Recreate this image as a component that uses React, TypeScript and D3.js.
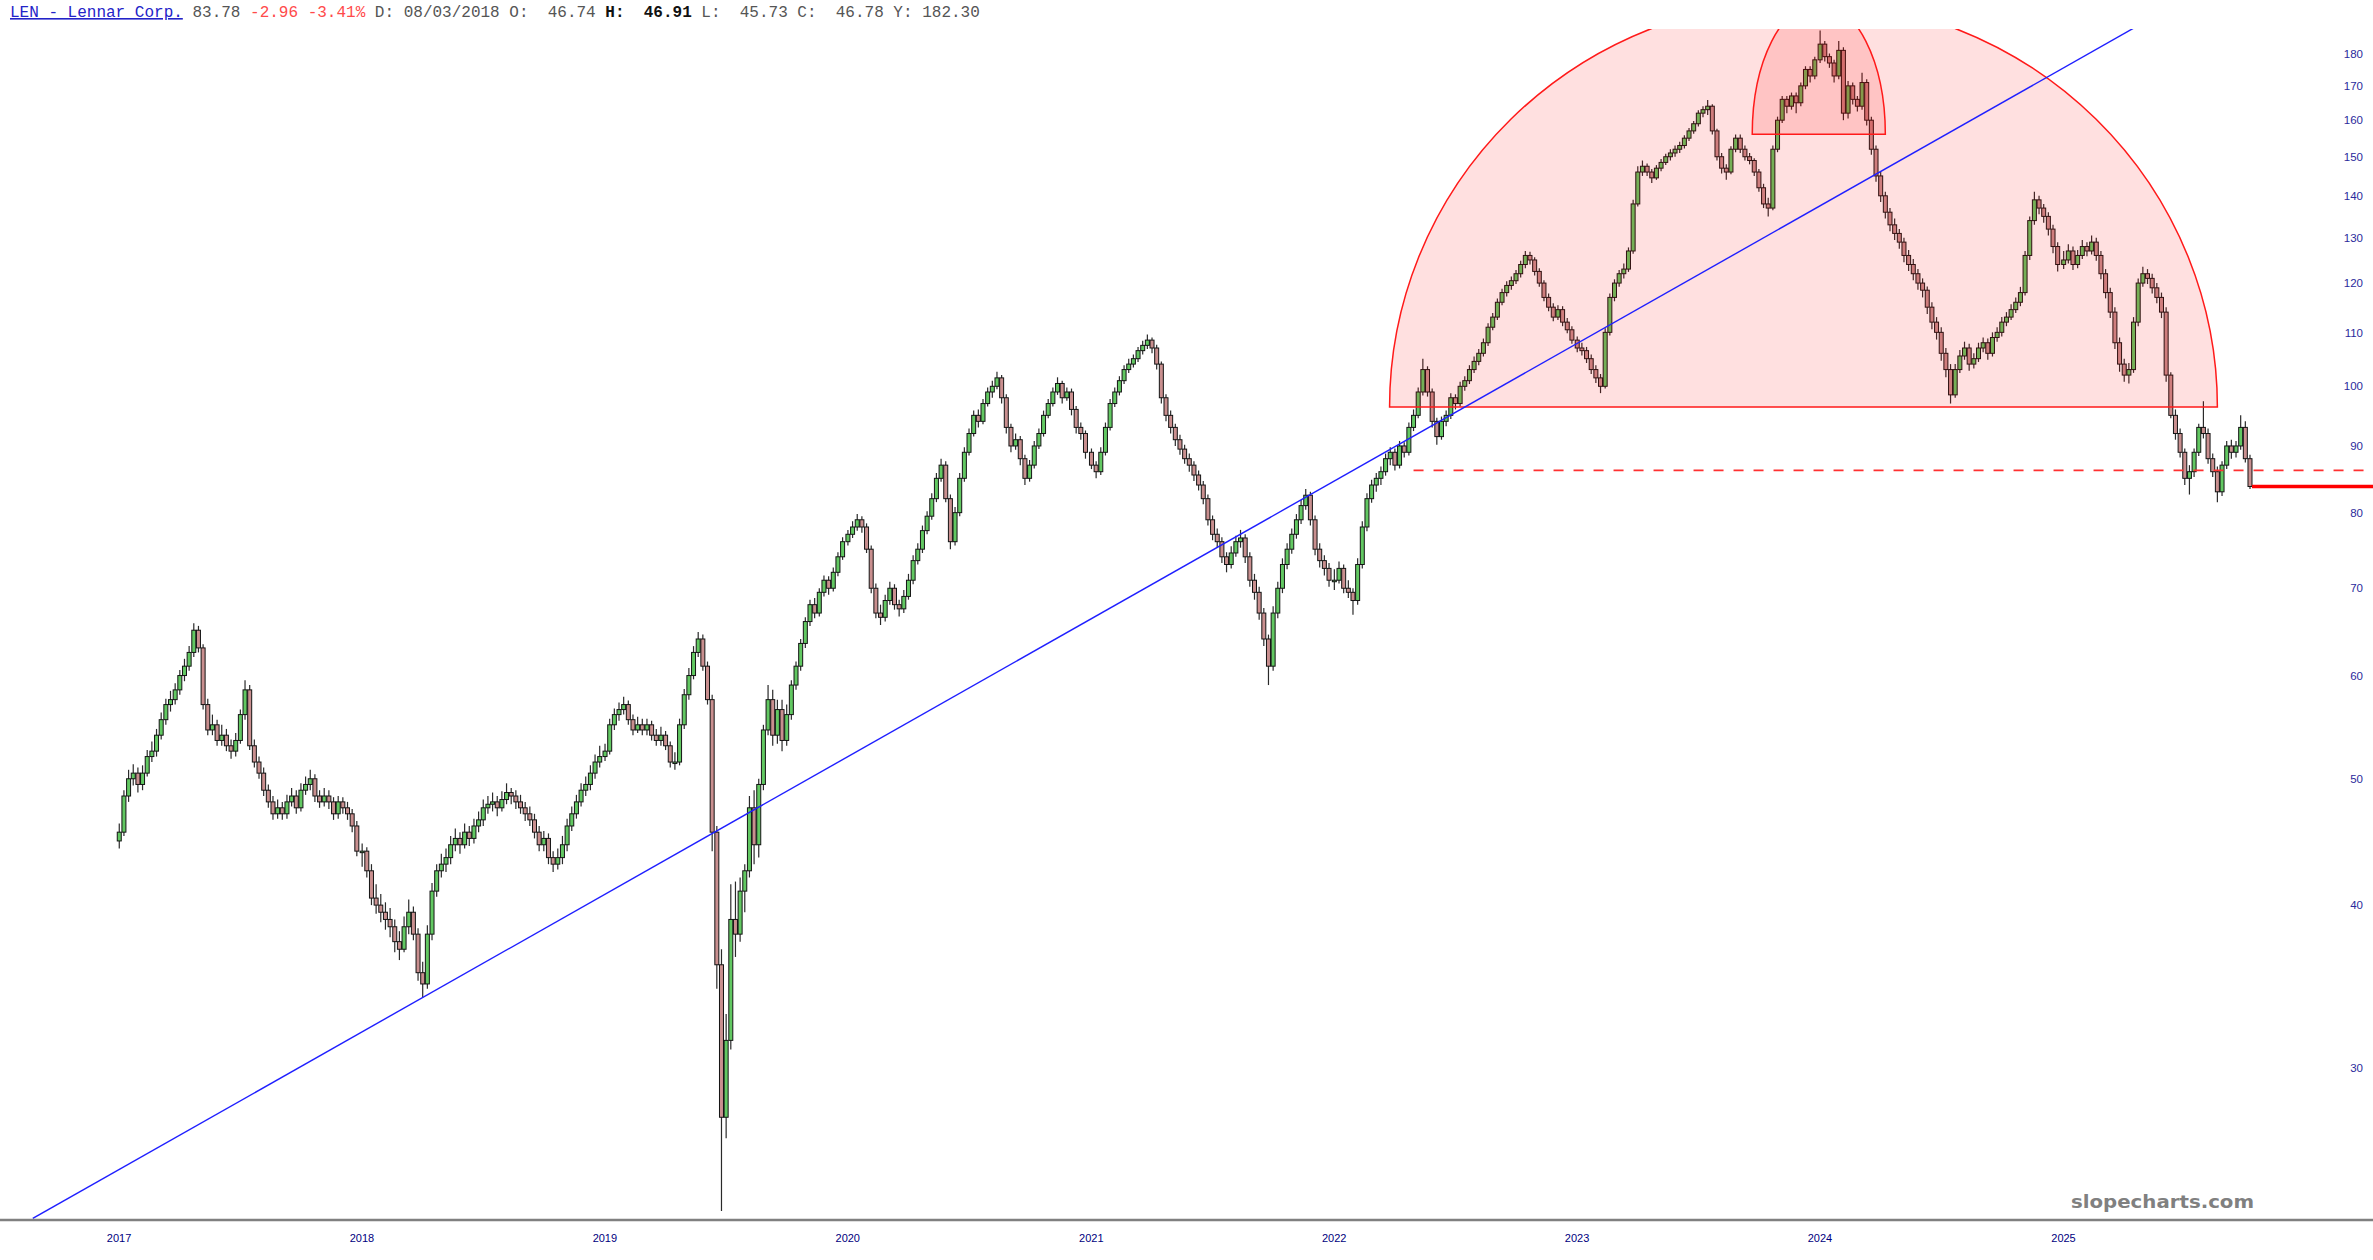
import { useEffect, useRef } from 'react';
import * as d3 from 'd3';

const WIDTH = 2373;
const HEIGHT = 1260;

// Weekly candles [open, high, low, close], one array per year
const ohlc2017 = [
  [44.8,46.2,44.2,45.5],[45.5,49,45.2,48.5],[48.5,50.8,48,50],[50,51.3,49.4,50.5],[50.5,51,48.8,49.5],
  [49.5,51.2,49,50.5],[50.5,52.6,50.2,52],[52,53.4,51.5,52.5],[52.5,54.6,52,54],[54,56.2,53.6,55.5],
  [55.5,57.6,55,57],[57,58.4,56.3,57.5],[57.5,59.2,57,58.5],[58.5,60.6,58,60],[60,61.8,59.4,61],
  [61,63.2,60.5,62.5],[62.5,65.8,62,65],[65,65.5,62.5,63],[63,63.4,56.5,57],[57,57.6,54,54.5],
  [54.5,56,54,55],[55,55.5,53,53.5],[53.5,55,53,54],[54,54.6,52.5,53],[53,53.6,51.8,52.5],
  [52.5,54.2,52,53.5],[53.5,56.5,53.2,56],[56,59.5,55.5,58.5],[58.5,59,52.6,53],[53,53.6,51,51.5],
  [51.5,52,50,50.5],[50.5,51,48.5,49],[49,49.5,47.5,48],[48,48.5,46.5,47],[47,48.2,46.6,47.5],
  [47.5,48,46.5,47],[47,48.6,46.6,48],[48,49.2,47.6,48.5],[48.5,49,47,47.5],[47.5,49.6,47.2,49],
  [49,50.2,48.6,49.5],[49.5,50.8,49,50],[50,50.4,48,48.5],[48.5,49,47.5,48],[48,49.2,47.6,48.5],
  [48.5,49,47.4,48],[48,48.4,46.5,47],[47,48.5,46.6,48],[48,48.4,47,47.5],[47.5,48,46.5,47],
  [47,47.4,45.5,46],[46,46.4,43.6,44],
];
const ohlc2018 = [
  [44,44.6,42.8,44],[44,44.3,42,42.5],[42.5,43,40,40.5],[40.5,41.5,39.4,40],[40,40.8,38.8,39.5],
  [39.5,40.2,38.3,39],[39,39.8,37.8,38.5],[38.5,39,36.8,37.5],[37.5,38.2,36.3,37],[37,39.2,36.8,38.5],
  [38.5,40.4,38,39.5],[39.5,39.9,37.6,38],[38,38.4,35,35.5],[35.5,36.2,34,34.8],[34.8,38.6,34.5,38],
  [38,41.6,37.6,41],[41,43,40.6,42.5],[42.5,43.8,42,43],[43,44.2,42.4,43.5],[43.5,45.2,43,44.5],
  [44.5,45.8,44,45],[45,45.5,43.8,44.5],[44.5,46.2,44.2,45.5],[45.5,46,44.4,45],[45,46.6,44.6,46],
  [46,47.2,45.5,46.5],[46.5,48.2,46,47.5],[47.5,48.5,47,47.8],[47.8,48.8,47.2,48],[48,48.5,46.8,47.5],
  [47.5,48.9,47.2,48.2],[48.2,49.6,47.8,48.8],[48.8,49.2,47.8,48.5],[48.5,49,47.4,48],[48,48.6,47,47.5],
  [47.5,48,46.4,47],[47,47.6,46,46.5],[46.5,47,45,45.5],[45.5,46,44,44.5],[44.5,45.6,44,45],
  [45,45.4,43,43.5],[43.5,44,42.4,43],[43,44.2,42.6,43.5],[43.5,45.2,43,44.5],[44.5,46.6,44,46],
  [46,47.6,45.6,47],[47,48.6,46.6,48],[48,49.6,47.6,49],[49,50.2,48.5,49.5],[49.5,51.2,49,50.5],
  [50.5,52.2,50,51.5],[51.5,53,51,52],
];
const ohlc2019 = [
  [52,53.2,51.6,52.5],[52.5,55.6,52.2,55],[55,56.6,54.5,56],[56,57.2,55.4,56.5],[56.5,57.8,56,57],
  [57,57.4,55,55.5],[55.5,56,54,54.5],[54.5,55.8,54.2,55],[55,55.6,54,54.5],[54.5,55.6,54,55],
  [55,55.4,53.5,54],[54,54.6,53,53.5],[53.5,54.8,53,54],[54,54.4,52.6,53],[53,53.4,51,51.5],
  [51.5,52.4,50.8,51.5],[51.5,55.6,51.2,55],[55,58.6,54.6,58],[58,60.8,57.5,60],[60,63.2,59.6,62.5],
  [62.5,64.8,62,64],[64,64.5,60.5,61],[61,61.5,57,57.5],[57.5,58,44,45.5],[45.5,46,34.5,36],
  [36,37,23.3,27.5],[27.5,33,26.5,31.5],[31.5,41.5,31,39],[39,41.7,36.5,38],[38,42,37.5,41],
  [41,43,39.5,42.5],[42.5,48.5,42,47.5],[47.5,49,43,44.5],[44.5,50,43.5,49.5],[49.5,55,49,54.5],
  [54.5,59,54,57.5],[57.5,58.5,53,54],[54,57.5,53.2,56.5],[56.5,57.5,52.5,53.5],[53.5,57,53,56],
  [56,59.5,55.5,59],[59,61.5,58.5,61],[61,64,60.5,63.5],[63.5,66.5,63,66],[66,68.6,65.5,68],
  [68,68.8,66.4,67],[67,70,66.6,69.5],[69.5,71.6,69,71],[71,71.5,69.2,70],[70,72.6,69.6,72],
  [72,74.6,71.5,74],[74,76.6,73.6,76],
];
const ohlc2020 = [
  [76,77.6,75.5,77],[77,78.8,76.5,78],[78,79.8,77.5,79],[79,79.5,77.2,78],[78,78.5,74.5,75],
  [75,75.5,69.4,70],[70,70.6,66.4,67],[67,68,65.6,66.5],[66.5,69.2,66,68.5],[68.5,70.8,68,70],
  [70,70.5,67.4,68],[68,68.6,66.6,67.5],[67.5,69.8,67,69],[69,71.8,68.6,71],[71,74.2,70.5,73.5],
  [73.5,75.8,73,75],[75,78.2,74.5,77.5],[77.5,80.2,77,79.5],[79.5,82.8,79,82],[82,85.8,81.5,85],
  [85,88,84.5,87],[87,87.6,81.5,82],[82,82.6,75,76],[76,80.8,75.5,80],[80,85.8,79.5,85],
  [85,89.8,84.5,89],[89,92.8,88.5,92],[92,95.8,91.5,95],[95,96,93,94],[94,97.8,93.5,97],
  [97,99.8,96.5,99],[99,101,98,100],[100,102.6,99.5,101.5],[101.5,102,97,98],[98,98.6,92,93],
  [93,93.6,89,90],[90,92,89.4,91],[91,91.6,87,88],[88,88.6,84,85],[85,87.8,84.5,87],
  [87,90.8,86.5,90],[90,92.8,89.5,92],[92,95.8,91.5,95],[95,97.8,94.5,97],[97,99.8,96.5,99],
  [99,101.6,98.5,100.5],[100.5,101,97,98],[98,99.8,97.5,99],[99,99.6,95,96],[96,96.6,92,93],
  [93,93.8,91,92],[92,92.5,88,89],
];
const ohlc2021 = [
  [89,89.6,86.4,87],[87,87.6,85,86],[86,89.8,85.5,89],[89,93.8,88.5,93],[93,97.8,92.5,97],
  [97,99.8,96.4,99],[99,101.8,98.4,101],[101,103.8,100.4,103],[103,105,102.4,104],[104,105.8,103.4,105],
  [105,107.2,104.4,106.5],[106.5,108.4,105.8,107.5],[107.5,109.6,106.8,108.5],[108.5,109,106,107],[107,107.6,103,104],
  [104,104.5,97,98],[98,98.6,94,95],[95,95.8,92,93],[93,93.6,90,91],[91,91.8,88.6,89.5],
  [89.5,90.2,87.2,88],[88,88.8,86,87],[87,87.6,84.6,85.5],[85.5,86.2,83.2,84],[84,84.6,81.2,82],
  [82,82.6,78.2,79],[79,79.6,76.2,77],[77,77.8,75.2,76],[76,76.6,73.2,74],[74,74.6,72,73],
  [73,75.4,72.5,74.5],[74.5,76.8,74,76],[76,77.6,75.2,76.5],[76.5,77,73.2,74],[74,74.6,70.2,71],
  [71,71.8,68.6,69.5],[69.5,70.2,66.2,67],[67,67.6,63.2,64],[64,64.5,59,61],[61,67.8,60.5,67],
  [67,70.8,66.4,70],[70,73.8,69.4,73],[73,75.8,72.4,75],[75,77.8,74.4,77],[77,79.8,76.4,79],
  [79,81.8,78.4,81],[81,83.4,80.4,82.5],[82.5,83,78.2,79],[79,79.6,74.2,75],[75,75.8,72.6,73.5],
  [73.5,74.2,71.6,72.5],[72.5,73.2,70.2,71],
];
const ohlc2022 = [
  [71,72.4,69.8,71],[71,73.4,70.6,72.5],[72.5,73,69.4,70],[70,71,68.8,69.5],[69.5,70,66.8,68.5],
  [68.5,73.8,68,73],[73,78.8,72.5,78],[78,82.8,77.4,82],[82,84.8,81.4,84],[84,85.8,83,85],
  [85,86.8,84,86],[86,88.8,85.4,88],[88,89.8,87,89],[89,89.6,86.2,87],[87,90.8,86.5,90],
  [90,90.6,88.2,89],[89,93.8,88.5,93],[93,96,92.4,95],[95,99.8,94.5,99],[99,105,98.4,103],
  [103,103.6,98.2,99],[99,99.6,93,94],[94,94.6,90.2,91.5],[91.5,94.8,91,94],[94,95.8,93.2,95],
  [95,98.8,94.4,98],[98,98.6,96,97],[97,100.8,96.5,100],[100,101.8,99.2,101],[101,103.8,100.4,103],
  [103,105.4,102.4,104.5],[104.5,106.8,103.8,106],[106,108.8,105.4,108],[108,111.8,107.4,111],[111,113.8,110.4,113],
  [113,116.8,112.4,116],[116,118.8,115.4,118],[118,120.4,117.2,119.5],[119.5,121.4,118.6,120.5],[120.5,122.8,119.8,122],
  [122,124.8,121.2,124],[124,127,123.2,126],[126,126.8,124,125],[125,125.6,121.6,122.5],[122.5,123.2,119.2,120],
  [120,120.6,116.2,117],[117,117.8,114.2,115],[115,115.8,112.2,113],[113,115.4,112.4,114.5],[114.5,115.2,111.2,112],
  [112,112.8,109.8,110.5],[110.5,111.2,107.8,108.5],
];
const ohlc2023 = [
  [108.5,109.2,106.2,107],[107,108,105.6,106.5],[106.5,107.2,104.2,105],[105,105.8,102.2,103],[103,103.8,100.6,101.5],
  [101.5,102.2,98.8,100],[100,110.8,99.6,110],[110,117.8,109.4,117],[117,120.8,116.2,120],[120,122.8,119.2,122],
  [122,124.2,121,123],[123,127.8,122.4,127],[127,139,126.4,138],[138,147.5,137.4,146],[146,149,145,147.5],
  [147.5,148.2,145,146],[146,146.8,143.2,144.5],[144.5,147.8,144,147],[147,149.4,146.2,148.5],[148.5,150.8,147.8,150],
  [150,152,149,151],[151,153,150,152],[152,154,151,153],[153,155.8,152.2,155],[155,157.8,154.2,157],
  [157,159.8,156.2,159],[159,162.8,158.2,162],[162,164,160.8,163],[163,165.8,161.5,164],[164,164.6,156,157],
  [157,157.6,149,150],[150,151,145.6,147],[147,148,144,146],[146,152.8,145.4,152],[152,156,151.2,155],
  [155,156,151,152],[152,153,149,150],[150,151,148,149],[149,149.6,145,146],[146,146.8,141,142],
  [142,143,137,138],[138,139.5,135,137],[137,153,136.5,152],[152,161,151.2,160],[160,167,159.2,166],
  [166,167,162,164],[164,168,163,167],[167,168,162,165],[165,171,164,170],[170,176,169,175],
  [175,176,171,173],[173,179,172,178],
];
const ohlc2024 = [
  [178,187.5,177,183],[183,184,177.5,179],[179,180,175.5,177],[177,178,171,173],[173,184,172,181],
  [181,182,160,162],[162,171.5,160.5,170],[170,171,164.5,166],[166,167,162.5,164],[164,174,163,171],
  [171,172,158.5,160],[160,161,150.5,152],[152,153,143.5,145],[145,146,138.5,140],[140,141,134.5,136],
  [136,137,131.5,133],[133,134.5,129.5,131],[131,132,127.5,129],[129,130,124.5,126],[126,127.2,122.6,124],
  [124,125.2,120.6,122],[122,123,118.6,120],[120,121,117,118.5],[118.5,119.3,113.6,115],[115,116,110.6,112],
  [112,113,108.6,110],[110,111,104.6,106],[106,107,101.6,103],[103,104,97,98.5],[98.5,104,98,103],
  [103,106.6,102.4,105.5],[105.5,108.2,104.8,107],[107,107.8,102.8,104],[104,106,103.2,105],[105,108,104.4,107],
  [107,109,106.2,108],[108,108.8,104.8,106],[106,110,105.4,109],[109,111,108.2,110],[110,113,109.2,112],
  [112,114,111.2,113],[113,115.6,112.4,114.5],[114.5,117,113.8,116],[116,119.2,115.2,118],[118,127,117.4,126],
  [126,135,125,134],[134,141,133,139],[139,140,135.5,137],[137,138,133.5,135],[135,136,130.5,132],
  [132,133,126.5,128],[128,129,122.5,124],
];
const ohlc2025 = [
  [124,127,123,125],[125,128.5,124.2,127],[127,128,122.8,124],[124,127.2,123.2,126],[126,129.5,125.2,128],
  [128,129,125.8,127],[127,130.5,126.2,129],[129,130,124.8,126],[126,127,120.8,122],[122,123,116.8,118],
  [118,119,112.8,114],[114,115,106.8,108],[108,109,102.6,104],[104,105,100.8,102],[102,104.2,100.5,103],
  [103,113,102.4,112],[112,121,111.2,120],[120,123.5,119.2,122],[122,123,119.8,121],[121,122,117.8,119],
  [119,120,115.8,117],[117,118,112.8,114],[114,115,100.8,102],[102,102.5,94.5,95],[95,96,91,92],
  [92,92.8,88.2,89],[89,89.6,84,85],[85,87,82.6,86],[86,89.6,85.2,89],[89,93.6,88.4,93],
  [93,97.4,91.2,92],[92,92.8,87.2,88],[88,88.8,85.2,86],[86,86.8,81.5,83],[83,87.6,82.4,87],
  [87,90.8,86.4,90],[90,91,88,89],[89,90.8,88.2,90],[90,95,89.4,93],[93,94,87.4,88],
  [88,88.6,83.4,83.78],
];

const yearlyCandles: [number, number[][]][] = [
  [2017, ohlc2017], [2018, ohlc2018], [2019, ohlc2019], [2020, ohlc2020], [2021, ohlc2021],
  [2022, ohlc2022], [2023, ohlc2023], [2024, ohlc2024], [2025, ohlc2025],
];

const yearTicks = [2017, 2018, 2019, 2020, 2021, 2022, 2023, 2024, 2025];
const priceTicks = [30, 40, 50, 60, 70, 80, 90, 100, 110, 120, 130, 140, 150, 160, 170, 180];

const lastPrice = 83.78;

// drawings on the chart, in date / price terms
const trendLine = [
  { date: new Date(2016, 7, 25), price: 23.0 },
  { date: new Date(2025, 3, 20), price: 188.6 },
];
const supportLine = { from: new Date(2022, 4, 1), price: 86.2 };
const bigDome = { from: new Date(2022, 2, 26), to: new Date(2025, 7, 21), base: 96.4, top: 197.8 };
const smallDome = { from: new Date(2023, 8, 22), to: new Date(2024, 3, 9), base: 156.1, top: 197.0 };

const header = [
  { text: 'LEN - Lennar Corp.', fill: '#2323c8', weight: 'normal', underline: true },
  { text: ' 83.78 ', fill: '#555', weight: 'normal' },
  { text: '-2.96 -3.41%', fill: '#ff4a4a', weight: 'normal' },
  { text: ' D: 08/03/2018 O:  46.74 ', fill: '#555', weight: 'normal' },
  { text: 'H:  46.91', fill: '#111', weight: 'bold' },
  { text: ' L:  45.73 C:  46.78 Y: 182.30', fill: '#555', weight: 'normal' },
];

const App = () => {
  const svgRef = useRef<SVGSVGElement>(null);

  useEffect(() => {
    if (!svgRef.current) return;
    const svg = d3.select(svgRef.current);
    svg.selectAll('*').remove();

    const candles = yearlyCandles.flatMap(([year, rows]) =>
      rows.map((r, i) => ({ date: new Date(year, 0, 2 + 7 * i), o: r[0], h: r[1], l: r[2], c: r[3] }))
    );

    const x = d3.scaleTime()
      .domain([new Date(2017, 0, 1), new Date(2025, 0, 1)])
      .range([118.6, 2063]);
    const y = d3.scaleLog()
      .domain([30, 180])
      .range([1068, 53.5]);

    const plotTop = 29;
    const plotBottom = 1219;

    svg.append('rect').attr('width', WIDTH).attr('height', HEIGHT).attr('fill', '#fff');

    svg.append('defs').append('clipPath').attr('id', 'plot-clip')
      .append('rect')
      .attr('x', 0).attr('y', plotTop)
      .attr('width', WIDTH).attr('height', plotBottom - plotTop);

    const plot = svg.append('g').attr('clip-path', 'url(#plot-clip)');

    // candles
    const bw = 4;
    const cg = plot.append('g');
    cg.selectAll('line.wick')
      .data(candles)
      .join('line')
      .attr('class', 'wick')
      .attr('x1', d => x(d.date)).attr('x2', d => x(d.date))
      .attr('y1', d => y(d.h)).attr('y2', d => y(d.l))
      .attr('stroke', '#2a2a2a')
      .attr('stroke-width', 1.2);
    cg.selectAll('rect.body')
      .data(candles)
      .join('rect')
      .attr('class', 'body')
      .attr('x', d => x(d.date) - bw / 2)
      .attr('y', d => y(Math.max(d.o, d.c)))
      .attr('width', bw)
      .attr('height', d => Math.max(1.5, Math.abs(y(d.o) - y(d.c))))
      .attr('fill', d => (d.c >= d.o ? '#62c862' : '#c98f8f'))
      .attr('stroke', '#141414')
      .attr('stroke-width', 1);

    // domes
    const domePath = (a: typeof bigDome) => {
      const x0 = x(a.from);
      const x1 = x(a.to);
      const cy = y(a.base);
      const rx = (x1 - x0) / 2;
      const ry = cy - y(a.top);
      return `M${x0},${cy} A${rx},${ry} 0 0 1 ${x1},${cy} Z`;
    };
    plot.selectAll('path.dome')
      .data([bigDome, smallDome])
      .join('path')
      .attr('class', 'dome')
      .attr('d', d => domePath(d))
      .attr('fill', 'rgba(255, 0, 0, 0.12)')
      .attr('stroke', '#ff1a1a')
      .attr('stroke-width', 1.5);

    // dashed support
    plot.append('line')
      .attr('x1', x(supportLine.from)).attr('x2', WIDTH)
      .attr('y1', y(supportLine.price)).attr('y2', y(supportLine.price))
      .attr('stroke', '#ff3030')
      .attr('stroke-width', 1.6)
      .attr('stroke-dasharray', '10,10');

    // trend line
    const line = d3.line<{ date: Date; price: number }>()
      .x(d => x(d.date))
      .y(d => y(d.price));
    plot.append('path')
      .attr('d', line(trendLine))
      .attr('fill', 'none')
      .attr('stroke', '#1f1fff')
      .attr('stroke-width', 1.4);

    // last price
    const last = candles[candles.length - 1];
    plot.append('line')
      .attr('x1', x(last.date) + 2).attr('x2', WIDTH)
      .attr('y1', y(lastPrice)).attr('y2', y(lastPrice))
      .attr('stroke', '#ff0000')
      .attr('stroke-width', 3.5);

    // price axis
    const yAxis = d3.axisLeft(y)
      .tickValues(priceTicks)
      .tickFormat(d3.format('d'))
      .tickSize(0)
      .tickPadding(0);
    const ya = svg.append('g')
      .attr('transform', 'translate(2363,0)')
      .call(yAxis);
    ya.select('.domain').remove();
    ya.selectAll('text')
      .style('font-family', '"Liberation Sans Narrow", "Liberation Sans", Arial, sans-serif')
      .style('font-size', '11.5px')
      .attr('fill', '#2a2a9c');

    // bottom axis
    svg.append('line')
      .attr('x1', 0).attr('x2', WIDTH)
      .attr('y1', 1220).attr('y2', 1220)
      .attr('stroke', '#808080')
      .attr('stroke-width', 2.5);

    const xAxis = d3.axisBottom(x)
      .tickValues(yearTicks.map(yr => new Date(yr, 0, 1)))
      .tickFormat(d => d3.timeFormat('%Y')(d as Date))
      .tickSize(0)
      .tickPadding(14);
    const xa = svg.append('g')
      .attr('transform', 'translate(0,1220)')
      .call(xAxis);
    xa.select('.domain').remove();
    xa.selectAll('text')
      .style('font-family', '"Liberation Sans Narrow", "Liberation Sans", Arial, sans-serif')
      .style('font-size', '11px')
      .attr('fill', '#000080');

    // watermark
    svg.append('text')
      .attr('x', 2071)
      .attr('y', 1208)
      .attr('textLength', 183)
      .attr('lengthAdjust', 'spacingAndGlyphs')
      .style('font-family', '"DejaVu Sans", Verdana, sans-serif')
      .style('font-size', '17px')
      .style('font-weight', 'bold')
      .attr('fill', '#808080')
      .text('slopecharts.com');

    // header
    const ht = svg.append('text')
      .attr('x', 10)
      .attr('y', 17)
      .style('font-family', '"Liberation Mono", "Courier New", monospace')
      .style('font-size', '16px')
      .style('white-space', 'pre');
    header.forEach(p => {
      ht.append('tspan')
        .attr('fill', p.fill)
        .style('font-weight', p.weight)
        .style('text-decoration', p.underline ? 'underline' : 'none')
        .text(p.text);
    });
  }, []);

  return (
    <div style={{ position: 'absolute', left: 0, top: 0, background: '#fff' }}>
      <svg ref={svgRef} width={WIDTH} height={HEIGHT} style={{ display: 'block' }} />
    </div>
  );
};

export default App;
